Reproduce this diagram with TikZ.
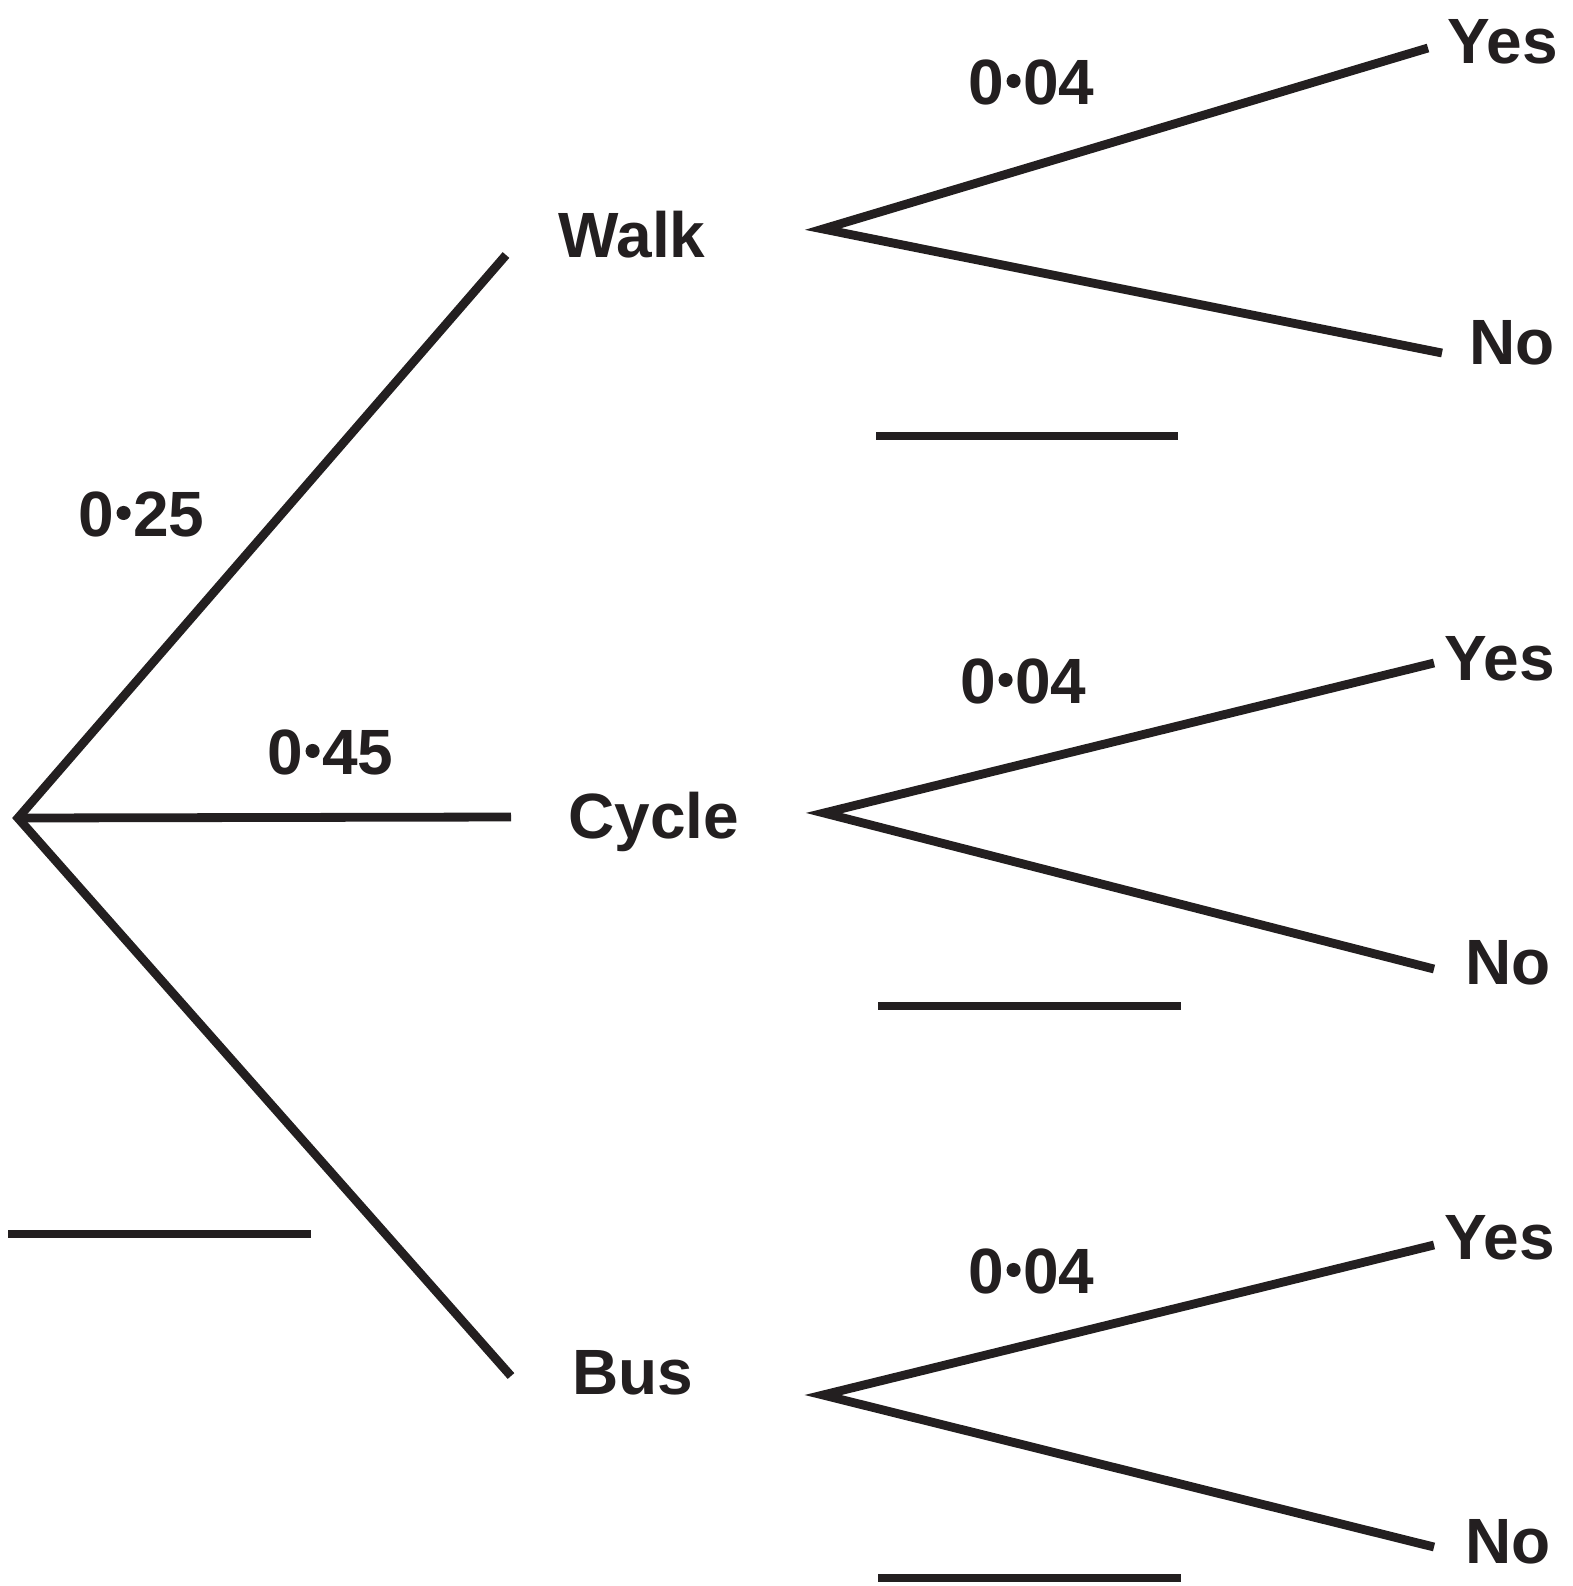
\documentclass[tikz,border=0pt]{standalone}
\usepackage{fontspec}
\setmainfont{Liberation Sans}
\definecolor{ink}{HTML}{231F20}
\newcommand{\mdot}{\kern0.04em\tikz[baseline=-0.36em]\fill[ink] (0,0) circle (0.11em);\kern0.04em}

\begin{document}
\begin{tikzpicture}[
    x=0.5pt, y=-0.5pt,
    every node/.style={font=\fontsize{32}{37}\selectfont\bfseries, text=ink, inner sep=0pt, anchor=base west},
    branch/.style={draw=ink, line width=4.4pt, line join=miter},
    blank/.style={draw=ink, line width=4.4pt}
]
\useasboundingbox (0,0) rectangle (1573,1586);

% first stage
\coordinate (root) at (18,818);
\coordinate (walkend) at (506,255);
\coordinate (cycleend) at (511,817);
\coordinate (busend) at (511,1376);
\draw[branch] (walkend) -- (root) -- (busend);
\draw[branch] (root) -- (cycleend);

\node (p1) at (78,536) {0\mdot 25};
\node (p2) at (267,774) {0\mdot 45};
\node (walk) at (558,257) {Walk};
\node (cycle) at (568,838) {Cycle};
\node (bus) at (572,1394) {Bus};

\coordinate (b1a) at (8,1234);
\coordinate (b1b) at (311,1234);
\draw[blank] (b1a) -- (b1b);

% second stage
\coordinate (wv) at (823,229);
\coordinate (wyes) at (1428,48);
\coordinate (wno) at (1442,353);
\draw[branch] (wyes) -- (wv) -- (wno);
\node (wp) at (968,104) {0\mdot 04};
\node (wyeslabel) at (1447,63) {Yes};
\node (wnolabel) at (1469,364) {No};
\coordinate (b2a) at (876,436);
\coordinate (b2b) at (1178,436);
\draw[blank] (b2a) -- (b2b);

\coordinate (cv) at (824,813);
\coordinate (cyes) at (1434,663);
\coordinate (cno) at (1434,969);
\draw[branch] (cyes) -- (cv) -- (cno);
\node (cp) at (960,703) {0\mdot 04};
\node (cyeslabel) at (1444,680) {Yes};
\node (cnolabel) at (1465,984) {No};
\coordinate (b3a) at (878,1006);
\coordinate (b3b) at (1181,1006);
\draw[blank] (b3a) -- (b3b);

\coordinate (bv) at (823,1395);
\coordinate (byes) at (1434,1245);
\coordinate (bno) at (1434,1547);
\draw[branch] (byes) -- (bv) -- (bno);
\node (bp) at (968,1293) {0\mdot 04};
\node (byeslabel) at (1444,1259) {Yes};
\node (bnolabel) at (1465,1563) {No};
\coordinate (b4a) at (878,1578);
\coordinate (b4b) at (1181,1578);
\draw[blank] (b4a) -- (b4b);
\end{tikzpicture}
\end{document}
